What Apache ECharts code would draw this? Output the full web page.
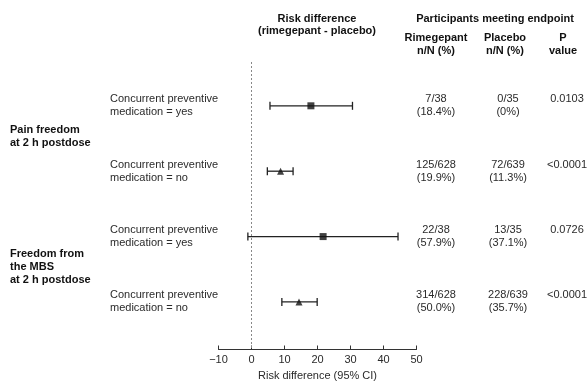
<!DOCTYPE html>
<html>
<head>
<meta charset="utf-8">
<script src="https://cdn.jsdelivr.net/npm/echarts@6/dist/echarts.min.js"></script>
<style>html,body{margin:0;padding:0;background:#fff}#c{width:588px;height:382px}</style>
</head>
<body>
<div id="c"></div>
<script>
const subgroups = ['Concurrent preventive\nmedication = yes', 'Concurrent preventive\nmedication = no', 'Concurrent preventive\nmedication = yes', 'Concurrent preventive\nmedication = no'];
const endpoints = ['Pain freedom\nat 2 h postdose', 'Freedom from\nthe MBS\nat 2 h postdose'];
const endpointRows = [[0, 1], [2, 3]];
const estimate = [18.0, 8.8, 21.7, 14.4];
const lower = [5.6, 4.8, -1.1, 9.2];
const upper = [30.6, 12.6, 44.4, 19.9];
const markerShapes = ['rect', 'triangle', 'rect', 'triangle'];
const rimeN = ['7/38', '125/628', '22/38', '314/628'];
const rimePct = ['(18.4%)', '(19.9%)', '(57.9%)', '(50.0%)'];
const placeboN = ['0/35', '72/639', '13/35', '228/639'];
const placeboPct = ['(0%)', '(11.3%)', '(37.1%)', '(35.7%)'];
const pValues = ['0.0103', '<0.0001', '0.0726', '<0.0001'];
const xTicks = [-10, 0, 10, 20, 30, 40, 50];

const FONT = '"Liberation Sans", Arial, sans-serif';
const TXT = '#2a2a2a';
const chart = echarts.init(document.getElementById('c'), null, {renderer: 'canvas'});
const rows = subgroups.map((_, i) => i);

function txt(x, y, text, align, bold, va) {
  return {type: 'text', x: x, y: y, style: {text: text, font: (bold ? 'bold ' : '') + '11px ' + FONT, fill: bold ? '#111' : TXT, align: align, verticalAlign: va || 'middle', lineHeight: 13}};
}

chart.setOption({
  animation: false,
  grid: {left: 218.5, right: 171.5, top: 62, bottom: 32.5, containLabel: false, outerBoundsMode: 'none'},
  xAxis: {
    type: 'value', min: xTicks[0], max: xTicks[xTicks.length - 1], interval: 10,
    splitLine: {show: false},
    axisLine: {show: true, onZero: false, lineStyle: {color: '#333', width: 1}},
    axisTick: {show: true, inside: true, length: 4, lineStyle: {color: '#333'}},
    axisLabel: {color: TXT, fontSize: 11, fontFamily: FONT, margin: 5, formatter: v => String(v).replace('-', '\u2212')},
    name: 'Risk difference (95% CI)', nameLocation: 'middle', nameGap: 19,
    nameTextStyle: {color: TXT, fontSize: 11, fontFamily: FONT}
  },
  yAxis: {type: 'value', inverse: true, min: -0.67, max: 3.727, show: false},
  series: [
    {
      type: 'custom', clip: false,
      data: rows.map(i => [i, lower[i], upper[i]]),
      renderItem: function (params, api) {
        const r = api.value(0);
        const p1 = api.coord([api.value(1), r]);
        const p2 = api.coord([api.value(2), r]);
        const st = {stroke: '#222', lineWidth: 1.3};
        return {type: 'group', children: [
          {type: 'line', shape: {x1: p1[0], y1: p1[1], x2: p2[0], y2: p2[1]}, style: st},
          {type: 'line', shape: {x1: p1[0], y1: p1[1] - 4, x2: p1[0], y2: p1[1] + 4}, style: st},
          {type: 'line', shape: {x1: p2[0], y1: p2[1] - 4, x2: p2[0], y2: p2[1] + 4}, style: st}
        ]};
      },
      z: 2
    },
    {
      type: 'scatter',
      data: rows.map(i => ({value: [estimate[i], i], symbol: markerShapes[i], symbolSize: 7})),
      itemStyle: {color: '#111'},
      z: 3,
      markLine: {
        silent: true, symbol: 'none', label: {show: false},
        lineStyle: {color: '#888', type: [2, 2], width: 1},
        data: [{xAxis: 0}]
      }
    },
    {
      type: 'custom', clip: false,
      data: rows.map(i => [i]),
      renderItem: function (params, api) {
        const i = api.value(0);
        const y = api.coord([0, i])[1];
        const ch = [
          txt(110, y, subgroups[i], 'left'),
          txt(436, y - 6.5, rimeN[i], 'center'),
          txt(436, y + 6.5, rimePct[i], 'center'),
          txt(508, y - 6.5, placeboN[i], 'center'),
          txt(508, y + 6.5, placeboPct[i], 'center'),
          txt(567, y - 6.5, pValues[i], 'center')
        ];
        endpointRows.forEach((pair, k) => {
          if (pair[0] === i) {
            const ym = (api.coord([0, pair[0]])[1] + api.coord([0, pair[1]])[1]) / 2 - 2;
            ch.push(txt(10, ym, endpoints[k], 'left', true));
          }
        });
        return {type: 'group', children: ch};
      }
    }
  ],
  graphic: [
    txt(317, 19, 'Risk difference', 'center', true),
    txt(317, 31, '(rimegepant - placebo)', 'center', true),
    txt(495, 19, 'Participants meeting endpoint', 'center', true),
    txt(436, 38, 'Rimegepant', 'center', true),
    txt(436, 51, 'n/N (%)', 'center', true),
    txt(505, 38, 'Placebo', 'center', true),
    txt(505, 51, 'n/N (%)', 'center', true),
    txt(563, 38, 'P', 'center', true),
    txt(563, 51, 'value', 'center', true)
  ]
});
</script>
</body>
</html>
